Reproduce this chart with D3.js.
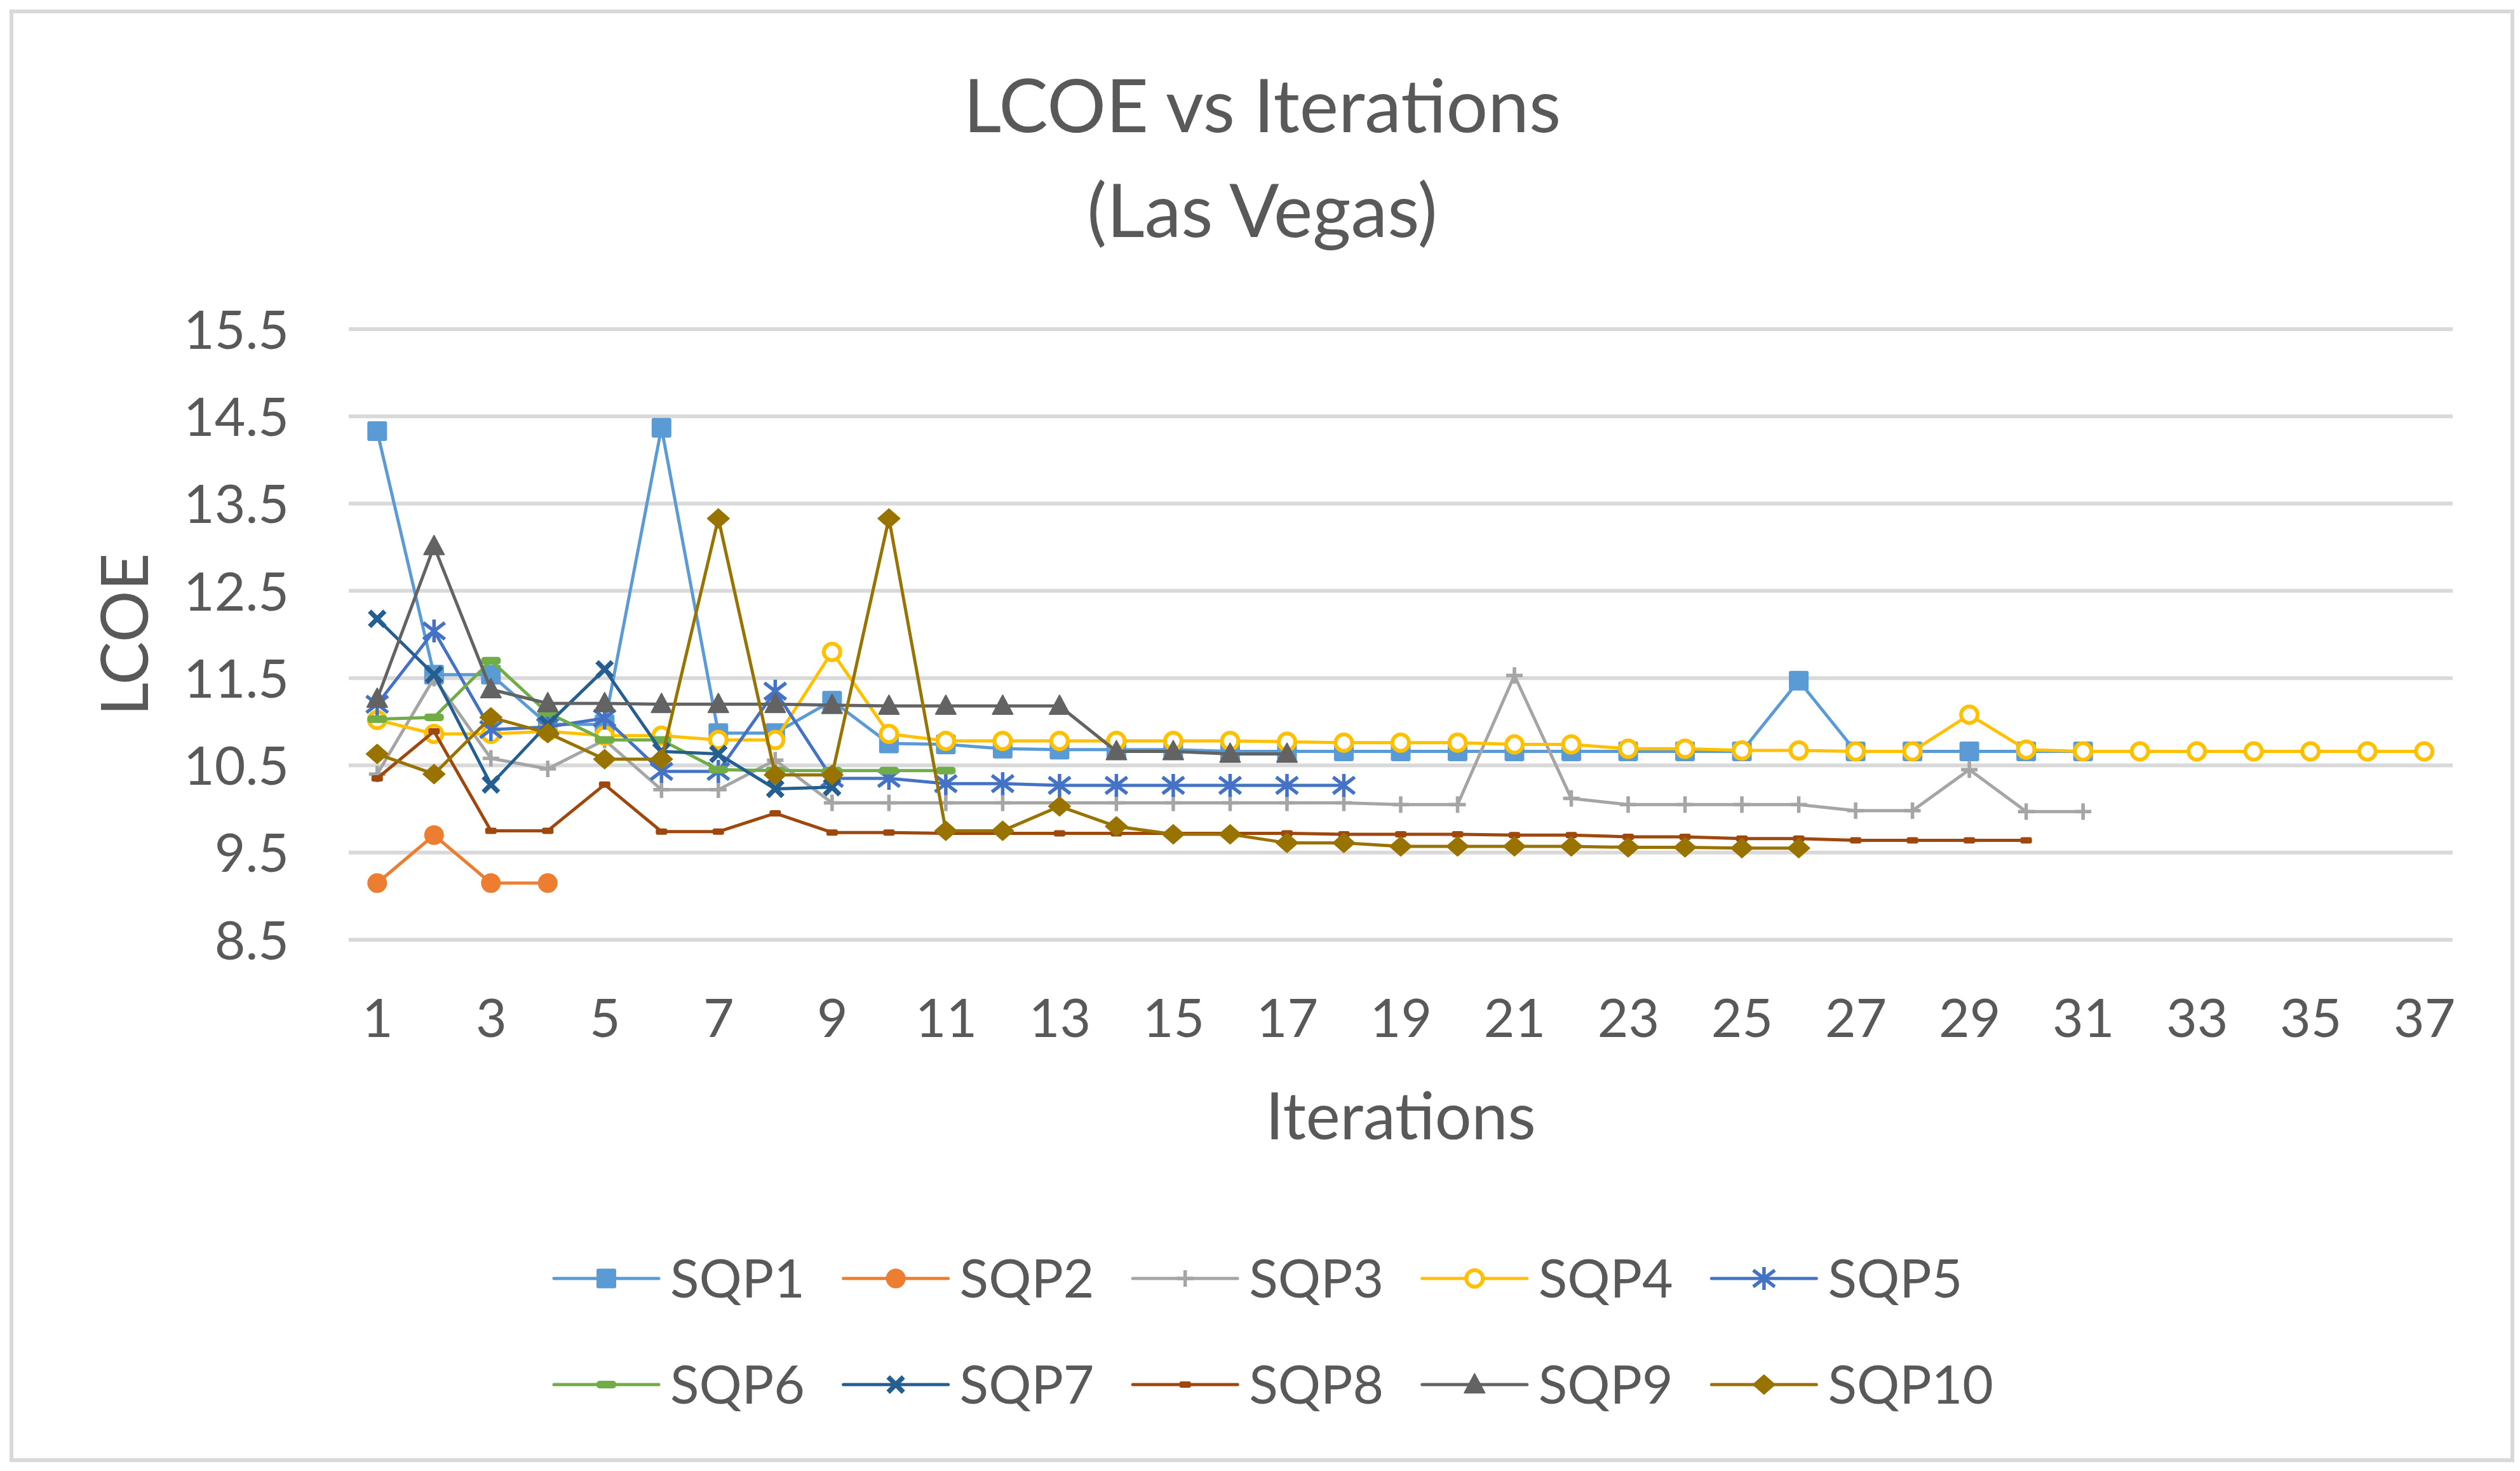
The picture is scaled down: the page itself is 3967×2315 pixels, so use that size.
<!DOCTYPE html>
<html>
<head>
<meta charset="utf-8">
<script src="https://cdn.jsdelivr.net/npm/d3@7"></script>
<style>
  body { margin: 0; background: #fff; }
  text { font-family: Lato, "Open Sans", sans-serif; fill: #595959; }
</style>
</head>
<body>
<svg id="chart" width="3967" height="2315"></svg>
<script>
// iterations 1..37
const iterations = d3.range(1, 38);
const xTickLabels = iterations.filter(d => d % 2 === 1);
const yTicks = [8.5, 9.5, 10.5, 11.5, 12.5, 13.5, 14.5, 15.5];

const seriesNames = ["SQP1", "SQP2", "SQP3", "SQP4", "SQP5", "SQP6", "SQP7", "SQP8", "SQP9", "SQP10"];

// values (one per iteration, series stop when they converge)
const sqp1 = [14.33, 11.54, 11.54, 10.97, 10.97, 14.37, 10.87, 10.87, 11.24, 10.75, 10.74, 10.69, 10.68, 10.68, 10.68, 10.66,
  10.66, 10.66, 10.66, 10.66, 10.66, 10.66, 10.66, 10.66, 10.66, 11.47, 10.66, 10.66, 10.66, 10.66, 10.66];
const sqp2 = [9.15, 9.70, 9.15, 9.15];
const sqp3 = [10.40, 11.50, 10.58, 10.46, 10.79, 10.22, 10.22, 10.56, 10.07, 10.07, 10.07, 10.07, 10.07, 10.07, 10.07, 10.07,
  10.07, 10.07, 10.05, 10.05, 11.53, 10.12, 10.05, 10.05, 10.05, 10.05, 9.98, 9.98, 10.45, 9.97, 9.97];
const sqp4 = [11.02, 10.86, 10.86, 10.89, 10.84, 10.84, 10.79, 10.79, 11.80, 10.86, 10.78, 10.78, 10.78, 10.78, 10.78, 10.78,
  10.77, 10.76, 10.76, 10.76, 10.74, 10.74, 10.69, 10.69, 10.67, 10.67, 10.66, 10.66, 11.08, 10.68, 10.66, 10.66,
  10.66, 10.66, 10.66, 10.66, 10.66];
const sqp5 = [11.20, 12.04, 10.91, 10.94, 11.04, 10.43, 10.43, 11.35, 10.35, 10.35, 10.29, 10.29, 10.27, 10.27, 10.27, 10.27,
  10.27, 10.27];
const sqp6 = [11.03, 11.05, 11.70, 11.10, 10.79, 10.79, 10.45, 10.44, 10.44, 10.44, 10.44];
const sqp7 = [12.18, 11.54, 10.28, 10.97, 11.60, 10.66, 10.63, 10.23, 10.25];
const sqp8 = [10.35, 10.89, 9.75, 9.75, 10.28, 9.74, 9.74, 9.95, 9.73, 9.73, 9.72, 9.72, 9.72, 9.72, 9.72, 9.72,
  9.72, 9.71, 9.71, 9.71, 9.70, 9.70, 9.68, 9.68, 9.66, 9.66, 9.64, 9.64, 9.64, 9.64];
const sqp9 = [11.26, 13.01, 11.37, 11.21, 11.21, 11.20, 11.20, 11.20, 11.19, 11.18, 11.18, 11.18, 11.18, 10.66, 10.66, 10.63,
  10.63];
const sqp10 = [10.63, 10.40, 11.05, 10.87, 10.57, 10.57, 13.33, 10.39, 10.39, 13.33, 9.75, 9.75, 10.03, 9.80, 9.71, 9.71,
  9.61, 9.61, 9.57, 9.57, 9.57, 9.57, 9.56, 9.56, 9.55, 9.55];

const seriesValues = [sqp1, sqp2, sqp3, sqp4, sqp5, sqp6, sqp7, sqp8, sqp9, sqp10];
const colors = ["#5B9BD5", "#ED7D31", "#A5A5A5", "#FFC000", "#4472C4", "#70AD47", "#255E91", "#9E480E", "#636363", "#997300"];
const markerTypes = ["square", "circle", "plus", "ring", "asterisk", "dash", "cross", "smalldash", "triangle", "diamond"];

const W = 3967, H = 2315;
const plot = { left: 549, right: 3861, top: 518, bottom: 1479 };

const svg = d3.select("#chart");
svg.append("rect").attr("width", W).attr("height", H).attr("fill", "#fff");
// chart border
svg.append("rect").attr("x", 18).attr("y", 18).attr("width", 3937).attr("height", 2280)
  .attr("fill", "none").attr("stroke", "#D9D9D9").attr("stroke-width", 6);

// scales
var xScale = d3.scalePoint().domain(iterations).range([plot.left, plot.right]).padding(0.5);
var yScale = d3.scaleLinear().domain([8.5, 15.5]).range([plot.bottom, plot.top]);

// gridlines
svg.append("g").selectAll("line").data(yTicks).join("line")
  .attr("x1", plot.left).attr("x2", plot.right)
  .attr("y1", d => yScale(d)).attr("y2", d => yScale(d))
  .attr("stroke", "#D9D9D9").attr("stroke-width", 6);

// y axis labels
var yAxis = d3.axisLeft(yScale).tickValues(yTicks).tickFormat(d3.format(".1f")).tickSize(0).tickPadding(0);
var gy = svg.append("g").attr("transform", `translate(${plot.left - 94},0)`).call(yAxis);
gy.select(".domain").remove();
gy.selectAll("text").attr("font-size", 84).attr("dy", "0.36em").style("font-family", null).attr("fill", null);

// x axis labels (every second iteration)
var xAxis = d3.axisBottom(xScale).tickValues(xTickLabels).tickSize(0).tickPadding(0);
var gx = svg.append("g").attr("transform", `translate(0,${plot.bottom})`).call(xAxis);
gx.select(".domain").remove();
gx.selectAll("text").attr("font-size", 84).attr("dy", null).attr("y", 153).style("font-family", null).attr("fill", null);
svg.selectAll(".tick line").remove();
svg.selectAll("g").attr("font-family", null);

// titles
svg.append("text").attr("x", 1987).attr("y", 208).attr("text-anchor", "middle").attr("font-size", 116).text("LCOE vs Iterations");
svg.append("text").attr("x", 1987).attr("y", 373).attr("text-anchor", "middle").attr("font-size", 116).text("(Las Vegas)");
svg.append("text").attr("x", (plot.left + plot.right) / 2).attr("y", 1793).attr("text-anchor", "middle")
  .attr("font-size", 102).text("Iterations");
svg.append("text").attr("transform", `translate(233,${(plot.top + plot.bottom) / 2}) rotate(-90)`)
  .attr("text-anchor", "middle").attr("font-size", 102).text("LCOE");

// marker drawing
function drawMarker(g, type, color) {
  if (type === "square") {
    g.append("rect").attr("x", -15.5).attr("y", -15.5).attr("width", 31).attr("height", 31).attr("rx", 3).attr("fill", color);
  } else if (type === "circle") {
    g.append("circle").attr("r", 15.5).attr("fill", color);
  } else if (type === "plus") {
    g.append("path").attr("d", "M-13,0H13M0,-13V13").attr("stroke", color).attr("stroke-width", 5.5).attr("fill", "none");
  } else if (type === "ring") {
    g.append("circle").attr("r", 13).attr("fill", "#fff").attr("stroke", color).attr("stroke-width", 6);
  } else if (type === "asterisk") {
    g.append("path").attr("d", "M-17,-13L17,13M-17,13L17,-13M0,-18V18").attr("stroke", color).attr("stroke-width", 5.5).attr("fill", "none");
  } else if (type === "dash") {
    g.append("rect").attr("x", -15.5).attr("y", -6).attr("width", 31).attr("height", 12).attr("rx", 5).attr("fill", color);
  } else if (type === "cross") {
    g.append("path").attr("d", "M-12,-12L12,12M-12,12L12,-12").attr("stroke", color).attr("stroke-width", 7.5).attr("fill", "none");
  } else if (type === "smalldash") {
    g.append("rect").attr("x", -9).attr("y", -5).attr("width", 18).attr("height", 10).attr("rx", 3).attr("fill", color);
  } else if (type === "triangle") {
    g.append("path").attr("d", "M0,-17L16,13L-16,13Z").attr("fill", color).attr("stroke", color).attr("stroke-width", 2).attr("stroke-linejoin", "round");
  } else if (type === "diamond") {
    g.append("path").attr("d", "M0,-15L17,0L0,15L-17,0Z").attr("fill", color).attr("stroke", color).attr("stroke-width", 2).attr("stroke-linejoin", "round");
  }
}

var lineGenerator = d3.line().x((d, i) => xScale(i + 1)).y(d => yScale(d));

// series: line then markers, in order
seriesValues.forEach((vals, s) => {
  var g = svg.append("g").attr("class", "series");
  g.append("path").attr("d", lineGenerator(vals)).attr("fill", "none").attr("stroke", colors[s])
    .attr("stroke-width", 5).attr("stroke-linejoin", "round").attr("stroke-linecap", "round");
  vals.forEach((v, i) => {
    var m = g.append("g").attr("transform", `translate(${xScale(i + 1)},${yScale(v)})`);
    drawMarker(m, markerTypes[s], colors[s]);
  });
});

// legend (2 rows of 5)
var legend = svg.append("g").attr("class", "legend");
seriesNames.forEach((name, s) => {
  var x0 = 872 + (s % 5) * 455.6;
  var y0 = s < 5 ? 2012 : 2179;
  var item = legend.append("g").attr("transform", `translate(${x0},${y0})`);
  item.append("line").attr("x1", 0).attr("x2", 165).attr("stroke", colors[s]).attr("stroke-width", 5).attr("stroke-linecap", "round");
  drawMarker(item.append("g").attr("transform", "translate(82.5,0)"), markerTypes[s], colors[s]);
  item.append("text").attr("x", 183).attr("y", 30).attr("font-size", 84).text(name);
});
</script>
</body>
</html>
